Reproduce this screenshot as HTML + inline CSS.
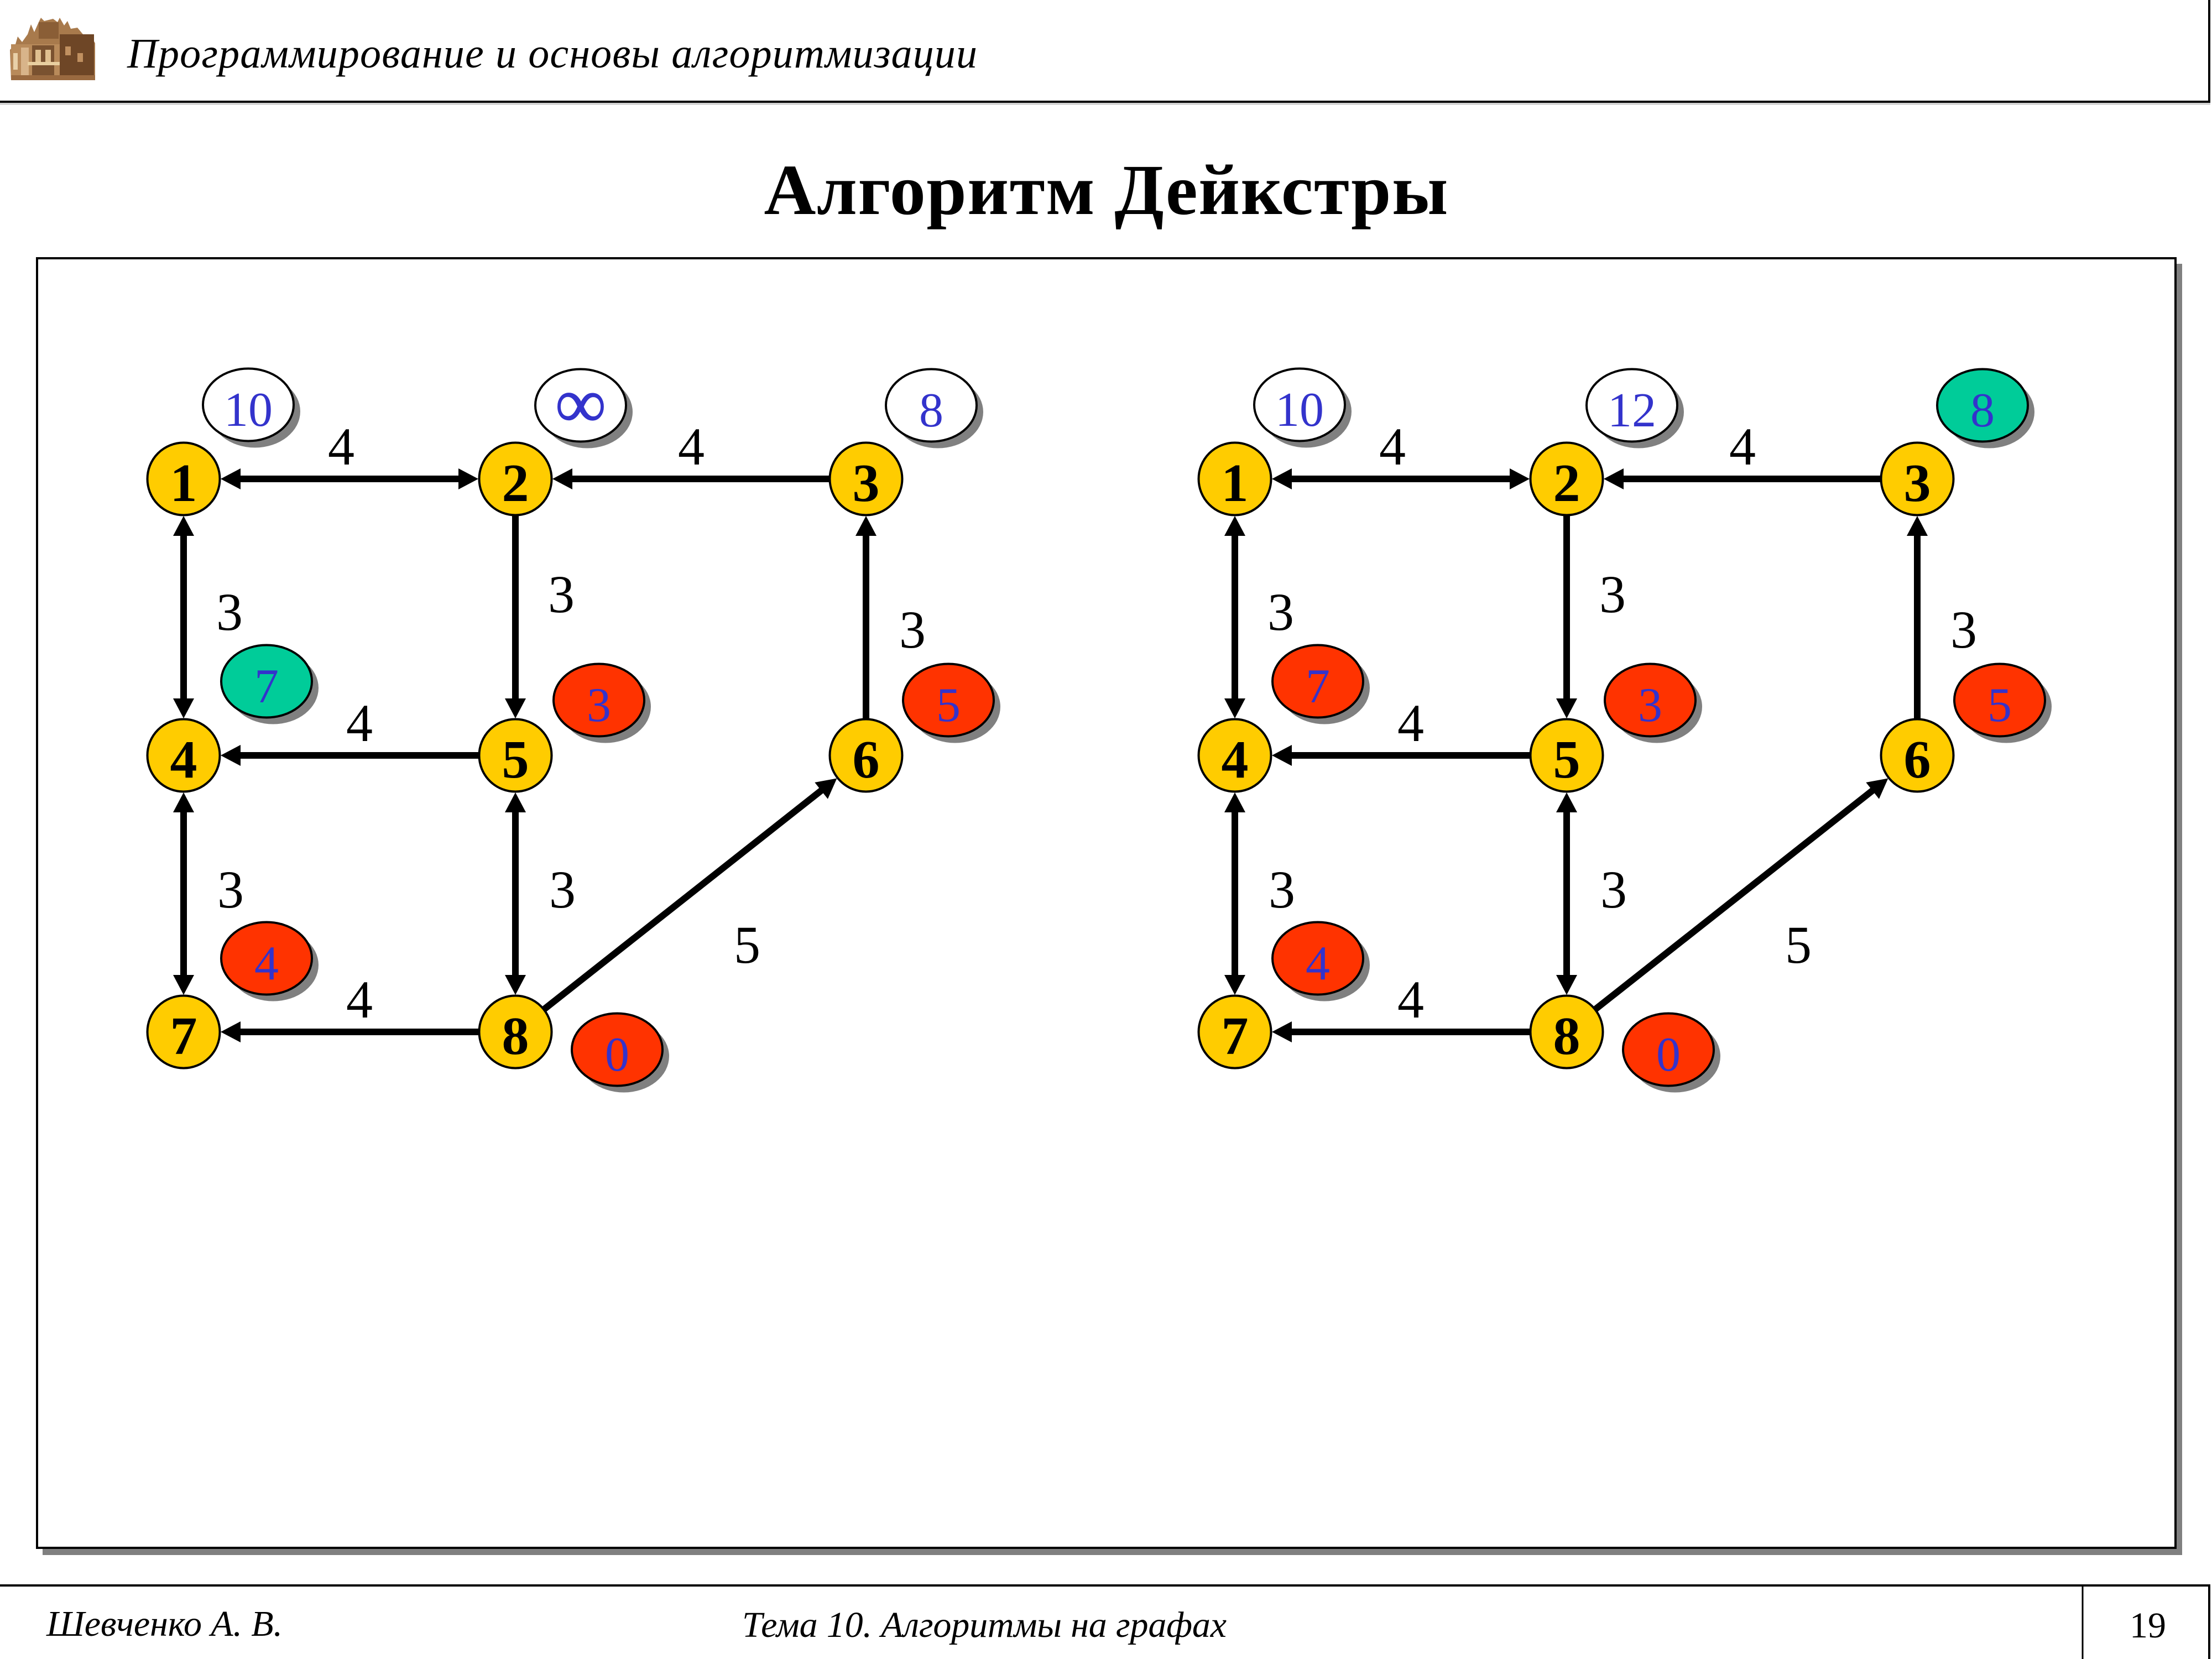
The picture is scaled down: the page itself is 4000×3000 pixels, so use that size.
<!DOCTYPE html>
<html>
<head>
<meta charset="utf-8">
<style>
  html, body { margin:0; padding:0; background:#fff; }
  body { width:4000px; height:3000px; overflow:hidden; }
  svg { display:block; }
  .hdr { font-family:"Liberation Serif","Noto Serif CJK SC",serif; font-style:italic; }
  .ttl { font-family:"Liberation Serif","Noto Serif CJK SC",serif; font-weight:bold; }
  .nl { font-family:"Liberation Serif",serif; font-weight:bold; font-size:98px; fill:#000; }
  .bl { font-family:"Liberation Serif",serif; font-size:88px; fill:#3333CC; }
  .el { font-family:"Liberation Serif",serif; font-size:96px; fill:#000; }
</style>
</head>
<body>
<svg width="4000" height="3000" viewBox="0 0 4000 3000" xmlns="http://www.w3.org/2000/svg">
  <defs>
    <g id="graph">
      <g stroke="#000" stroke-width="12" fill="none">
        <line x1="432" y1="866" x2="832" y2="866"/>
        <line x1="1499" y1="866" x2="1032" y2="866"/>
        <line x1="332" y1="966" x2="332" y2="1266"/>
        <line x1="932" y1="933" x2="932" y2="1266"/>
        <line x1="1566" y1="1299" x2="1566" y2="966"/>
        <line x1="865" y1="1366" x2="432" y2="1366"/>
        <line x1="332" y1="1466" x2="332" y2="1766"/>
        <line x1="932" y1="1466" x2="932" y2="1766"/>
        <line x1="984.6" y1="1824.5" x2="1487" y2="1428"/>
        <line x1="865" y1="1866" x2="432" y2="1866"/>
      </g>
      <g fill="#000">
        <polygon points="399,866 435,847 435,885"/>
        <polygon points="865,866 829,847 829,885"/>
        <polygon points="999,866 1035,847 1035,885"/>
        <polygon points="332,933 313,969 351,969"/>
        <polygon points="332,1299 313,1263 351,1263"/>
        <polygon points="932,1299 913,1263 951,1263"/>
        <polygon points="1566,933 1547,969 1585,969"/>
        <polygon points="399,1366 435,1347 435,1385"/>
        <polygon points="332,1433 313,1469 351,1469"/>
        <polygon points="332,1799 313,1763 351,1763"/>
        <polygon points="932,1433 913,1469 951,1469"/>
        <polygon points="932,1799 913,1763 951,1763"/>
        <polygon points="1513.4,1407.5 1496.9,1444.7 1473.3,1414.9"/>
        <polygon points="399,1866 435,1847 435,1885"/>
      </g>
      <g fill="#FFCC00" stroke="#000" stroke-width="4">
        <circle cx="332" cy="866" r="65.5"/>
        <circle cx="932" cy="866" r="65.5"/>
        <circle cx="1566" cy="866" r="65.5"/>
        <circle cx="332" cy="1366" r="65.5"/>
        <circle cx="932" cy="1366" r="65.5"/>
        <circle cx="1566" cy="1366" r="65.5"/>
        <circle cx="332" cy="1866" r="65.5"/>
        <circle cx="932" cy="1866" r="65.5"/>
      </g>
      <g class="nl" text-anchor="middle">
        <text x="332" y="906">1</text>
        <text x="932" y="906">2</text>
        <text x="1566" y="906">3</text>
        <text x="332" y="1406">4</text>
        <text x="932" y="1406">5</text>
        <text x="1566" y="1406">6</text>
        <text x="332" y="1906">7</text>
        <text x="932" y="1906">8</text>
      </g>
      <g class="el" text-anchor="middle">
        <text x="617" y="840">4</text>
        <text x="1250" y="840">4</text>
        <text x="415" y="1139">3</text>
        <text x="1015" y="1107">3</text>
        <text x="1650" y="1171">3</text>
        <text x="650" y="1340">4</text>
        <text x="417" y="1641">3</text>
        <text x="1017" y="1641">3</text>
        <text x="1351" y="1741">5</text>
        <text x="650" y="1840">4</text>
      </g>
    </g>
  </defs>

  <!-- Header -->
  <rect x="-10" y="-10" width="4005" height="194" fill="#fff" stroke="#000" stroke-width="4"/>
  <line x1="0" y1="188" x2="3997" y2="188" stroke="#bbb" stroke-width="2"/>
  <!-- logo -->
  <g>
    <polygon points="20,145 18,90 28,80 32,66 40,76 50,62 56,44 62,58 70,40 74,32 80,38 96,34 104,40 108,32 116,46 122,38 128,52 140,50 150,62 165,66 172,78 172,145" fill="#A87A4C"/>
    <rect x="20" y="80" width="150" height="65" fill="#B88A5A"/>
    <rect x="70" y="40" width="36" height="30" fill="#8A5E36"/>
    <rect x="38" y="86" width="14" height="50" fill="#D8B48A"/>
    <rect x="58" y="82" width="40" height="60" fill="#7A5230"/>
    <rect x="64" y="90" width="10" height="22" fill="#E0C090"/>
    <rect x="82" y="90" width="10" height="22" fill="#E0C090"/>
    <rect x="50" y="112" width="58" height="6" fill="#E8CFA0"/>
    <rect x="108" y="62" width="62" height="83" fill="#6E4626"/>
    <rect x="118" y="84" width="10" height="16" fill="#C09060"/>
    <rect x="140" y="96" width="10" height="16" fill="#C09060"/>
    <rect x="20" y="136" width="152" height="9" fill="#9A6A40"/>
    <rect x="24" y="96" width="8" height="30" fill="#E8D0A8"/>
  </g>
  <text class="hdr" x="230" y="122" font-size="76" textLength="1537" fill="#000">Программирование и основы алгоритмизации</text>

  <!-- Title -->
  <text class="ttl" x="2000" y="387" font-size="130" text-anchor="middle" textLength="1237" fill="#000">Алгоритм Дейкстры</text>

  <!-- Main box -->
  <rect x="77" y="477" width="3869" height="2335" fill="#808080"/>
  <rect x="67" y="467" width="3867" height="2332" fill="#fff" stroke="#000" stroke-width="4"/>

  <!-- Graphs -->
  <use href="#graph"/>
  <use href="#graph" transform="translate(1901,0)"/>

  <!-- Badges: shadows -->
  <g fill="#808080">
    <ellipse cx="461" cy="744" rx="82" ry="65.5"/>
    <ellipse cx="1062" cy="745" rx="82" ry="65.5"/>
    <ellipse cx="1696" cy="745" rx="82" ry="65.5"/>
    <ellipse cx="494" cy="1244" rx="82" ry="65.5"/>
    <ellipse cx="1095" cy="1278" rx="82" ry="65.5"/>
    <ellipse cx="1727" cy="1278" rx="82" ry="65.5"/>
    <ellipse cx="494" cy="1745" rx="82" ry="65.5"/>
    <ellipse cx="1128" cy="1910" rx="82" ry="65.5"/>

    <ellipse cx="2362" cy="744" rx="82" ry="65.5"/>
    <ellipse cx="2963" cy="745" rx="82" ry="65.5"/>
    <ellipse cx="3597" cy="745" rx="82" ry="65.5"/>
    <ellipse cx="2395" cy="1244" rx="82" ry="65.5"/>
    <ellipse cx="2996" cy="1278" rx="82" ry="65.5"/>
    <ellipse cx="3628" cy="1278" rx="82" ry="65.5"/>
    <ellipse cx="2395" cy="1745" rx="82" ry="65.5"/>
    <ellipse cx="3029" cy="1910" rx="82" ry="65.5"/>
  </g>
  <!-- Badges -->
  <g stroke="#000" stroke-width="4">
    <ellipse cx="449" cy="732" rx="82" ry="65.5" fill="#fff"/>
    <ellipse cx="1050" cy="733" rx="82" ry="65.5" fill="#fff"/>
    <ellipse cx="1684" cy="733" rx="82" ry="65.5" fill="#fff"/>
    <ellipse cx="482" cy="1232" rx="82" ry="65.5" fill="#00CC99"/>
    <ellipse cx="1083" cy="1266" rx="82" ry="65.5" fill="#FF3300"/>
    <ellipse cx="1715" cy="1266" rx="82" ry="65.5" fill="#FF3300"/>
    <ellipse cx="482" cy="1733" rx="82" ry="65.5" fill="#FF3300"/>
    <ellipse cx="1116" cy="1898" rx="82" ry="65.5" fill="#FF3300"/>

    <ellipse cx="2350" cy="732" rx="82" ry="65.5" fill="#fff"/>
    <ellipse cx="2951" cy="733" rx="82" ry="65.5" fill="#fff"/>
    <ellipse cx="3585" cy="733" rx="82" ry="65.5" fill="#00CC99"/>
    <ellipse cx="2383" cy="1232" rx="82" ry="65.5" fill="#FF3300"/>
    <ellipse cx="2984" cy="1266" rx="82" ry="65.5" fill="#FF3300"/>
    <ellipse cx="3616" cy="1266" rx="82" ry="65.5" fill="#FF3300"/>
    <ellipse cx="2383" cy="1733" rx="82" ry="65.5" fill="#FF3300"/>
    <ellipse cx="3017" cy="1898" rx="82" ry="65.5" fill="#FF3300"/>
  </g>
  <g class="bl" text-anchor="middle">
    <text x="449" y="770">10</text>
    <text x="1050" y="773" font-size="130" stroke="#3333CC" stroke-width="1">∞</text>
    <text x="1684" y="771">8</text>
    <text x="482" y="1270">7</text>
    <text x="1083" y="1304">3</text>
    <text x="1715" y="1304">5</text>
    <text x="482" y="1771">4</text>
    <text x="1116" y="1936">0</text>

    <text x="2350" y="770">10</text>
    <text x="2951" y="771">12</text>
    <text x="3585" y="771">8</text>
    <text x="2383" y="1270">7</text>
    <text x="2984" y="1304">3</text>
    <text x="3616" y="1304">5</text>
    <text x="2383" y="1771">4</text>
    <text x="3017" y="1936">0</text>
  </g>

  <!-- Footer -->
  <rect x="-10" y="2867" width="4005" height="143" fill="#fff" stroke="#000" stroke-width="4"/>
  <line x1="3766" y1="2867" x2="3766" y2="3000" stroke="#000" stroke-width="3"/>
  <text class="hdr" x="84" y="2958" font-size="66" textLength="427" fill="#000">Шевченко А. В.</text>
  <text class="hdr" x="1342" y="2960" font-size="66" textLength="876" fill="#000">Тема 10. Алгоритмы на графах</text>
  <text x="3884" y="2961" font-family="Liberation Serif, serif" font-size="66" text-anchor="middle" fill="#000">19</text>
</svg>
</body>
</html>
